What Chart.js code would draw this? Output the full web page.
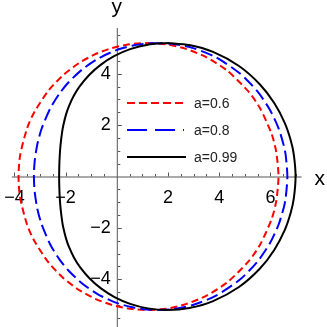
<!DOCTYPE html>
<html>
<head>
<meta charset="utf-8">
<script src="https://cdn.jsdelivr.net/npm/chart.js@4"></script>
<style>
  html, body { margin: 0; padding: 0; background: #fff; }
  #wrap { width: 327px; height: 327px; }
</style>
</head>
<body>
<div id="wrap"><canvas id="c"></canvas></div>
<script>
// closed curves (start at the top, go clockwise)
const x06 = [1.2, 1.934, 2.697, 3.489, 4.311, 5.163, 5.601, 6.046, 6.226, 6.317, 6.226, 6.046, 5.601, 5.163, 4.311, 3.489, 2.697, 1.934, 1.2, 0.494, -0.185, -0.838, -1.467, -2.072, -2.657, -3.224, -3.503, -3.778, -3.838, -3.778, -3.503, -3.224, -2.657, -2.072, -1.467, -0.838, -0.185, 0.494, 1.2];
const y06 = [5.196, 5.142, 4.967, 4.644, 4.121, 3.281, 2.645, 1.662, 0.965, 0, -0.965, -1.662, -2.645, -3.281, -4.121, -4.644, -4.967, -5.142, -5.196, -5.146, -4.999, -4.759, -4.419, -3.965, -3.359, -2.502, -1.879, -0.811, 0, 0.811, 1.879, 2.502, 3.359, 3.965, 4.419, 4.759, 4.999, 5.146, 5.196];

const x08 = [1.342, 2.134, 2.978, 3.875, 4.825, 5.488, 5.967, 6.316, 6.529, 6.6, 6.663, 6.6, 6.529, 6.316, 5.967, 5.488, 4.825, 3.875, 2.978, 2.134, 1.342, 0.6, -0.092, -0.738, -1.339, -1.9, -2.256, -2.6, -2.938, -3.106, -3.207, -3.238, -3.207, -3.106, -2.938, -2.6, -2.256, -1.9, -1.339, -0.738, -0.092, 0.6, 1.342];
const y08 = [5.189, 5.167, 4.997, 4.636, 3.997, 3.319, 2.62, 1.883, 1.183, 0.812, 0, -0.812, -1.183, -1.883, -2.62, -3.319, -3.997, -4.636, -4.997, -5.167, -5.189, -5.091, -4.886, -4.582, -4.176, -3.648, -3.205, -2.646, -1.858, -1.246, -0.601, 0, 0.601, 1.246, 1.858, 2.646, 3.205, 3.648, 4.176, 4.582, 4.886, 5.091, 5.189];

const x099 = [1.98, 2.83, 3.761, 4.773, 5.584, 6.15, 6.559, 6.796, 6.916, 6.983, 6.916, 6.796, 6.559, 6.15, 5.584, 4.773, 3.761, 2.83, 1.98, 1.21, 0.521, -0.089, -0.619, -1.07, -1.444, -1.675, -1.868, -1.979, -2.084, -2.138, -2.201, -2.231, -2.248, -2.252, -2.248, -2.231, -2.201, -2.138, -2.084, -1.979, -1.868, -1.675, -1.444, -1.07, -0.619, -0.089, 0.521, 1.21, 1.98];
const y099 = [5.196, 5.118, 4.848, 4.299, 3.59, 2.857, 2.084, 1.4, 0.843, 0, -0.843, -1.4, -2.084, -2.857, -3.59, -4.299, -4.848, -5.118, -5.196, -5.131, -4.955, -4.69, -4.354, -3.959, -3.514, -3.148, -2.741, -2.426, -2.017, -1.716, -1.195, -0.781, -0.353, 0, 0.353, 0.781, 1.195, 1.716, 2.017, 2.426, 2.741, 3.148, 3.514, 3.959, 4.354, 4.69, 4.955, 5.131, 5.196];

const seriesLabels = ["a=0.6", "a=0.8", "a=0.99"];
const xTickLabels = [-4, -2, 2, 4, 6];
const yTickLabels = [-4, -2, 2, 4];

const toPoints = (xs, ys) => xs.map((x, i) => ({ x: x, y: ys[i] }));
const fmt = (v) => (v < 0 ? "\u2212" + Math.abs(v) : String(v));

// axes through the origin, Mathematica style (ticks on the inner side)
const axesPlugin = {
    id: "originAxes",
    beforeDatasetsDraw(chart) {
        const { ctx, scales: { x, y } } = chart;
        const x0 = x.getPixelForValue(0);
        const y0 = y.getPixelForValue(0);
        ctx.save();
        ctx.strokeStyle = "#555";
        ctx.lineWidth = 1;
        ctx.beginPath();
        ctx.moveTo(x.getPixelForValue(-4.1), y0 + 0.5);
        ctx.lineTo(x.getPixelForValue(7.22), y0 + 0.5);
        ctx.moveTo(x0 + 0.5, y.getPixelForValue(5.78));
        ctx.lineTo(x0 + 0.5, y.getPixelForValue(-5.9));
        // x ticks
        for (let v = -4; v <= 7; v += 0.5) {
            if (v === 0) continue;
            const px = Math.round(x.getPixelForValue(v)) + 0.5;
            const len = v % 2 === 0 ? 4 : 2.5;
            ctx.moveTo(px, y0);
            ctx.lineTo(px, y0 - len);
        }
        // y ticks
        for (let v = -5.5; v <= 5.5; v += 0.5) {
            if (v === 0) continue;
            const py = Math.round(y.getPixelForValue(v)) + 0.5;
            const len = v % 2 === 0 ? 4 : 2.5;
            ctx.moveTo(x0 + 1, py);
            ctx.lineTo(x0 + 1 + len, py);
        }
        ctx.stroke();

        ctx.fillStyle = "#000";
        ctx.font = "18px 'Liberation Sans', Arial, sans-serif";
        ctx.textAlign = "center";
        ctx.textBaseline = "middle";
        xTickLabels.forEach((v) => {
            ctx.fillText(fmt(v), x.getPixelForValue(v), y0 + 22);
        });
        ctx.textAlign = "right";
        yTickLabels.forEach((v) => {
            ctx.fillText(fmt(v), x0 - 6, y.getPixelForValue(v));
        });

        ctx.font = "21px 'Liberation Sans', Arial, sans-serif";
        ctx.textAlign = "center";
        ctx.textBaseline = "alphabetic";
        ctx.fillText("x", x.getPixelForValue(7.22) + 18, y0 + 8);
        ctx.fillText("y", x0, y.getPixelForValue(5.78) - 15);
        ctx.restore();
    },
    afterDatasetsDraw(chart) {
        const { ctx } = chart;
        const rows = [103, 130, 157];
        ctx.save();
        chart.data.datasets.forEach((ds, i) => {
            const yy = rows[i];
            ctx.strokeStyle = ds.borderColor;
            ctx.lineWidth = ds.borderWidth;
            ctx.setLineDash(ds.legendDash);
            ctx.beginPath();
            ctx.moveTo(127, yy);
            ctx.lineTo(i === 2 ? 186 : 184, yy);
            ctx.stroke();
            ctx.setLineDash([]);
            ctx.fillStyle = "#222";
            ctx.font = "14px 'Liberation Sans', Arial, sans-serif";
            ctx.textAlign = "left";
            ctx.textBaseline = "middle";
            ctx.fillText(ds.label, 194, yy + 1);
        });
        ctx.restore();
    },
};

new Chart(document.getElementById("c"), {
    type: "scatter",
    data: {
        datasets: [
            {
                label: seriesLabels[0],
                data: toPoints(x06, y06),
                borderColor: "#ff0000",
                borderWidth: 2,
                borderDash: [7, 4],
                legendDash: [8, 4],
                order: 3,
            },
            {
                label: seriesLabels[1],
                data: toPoints(x08, y08),
                borderColor: "#0000ff",
                borderWidth: 2,
                borderDash: [12, 5],
                legendDash: [20, 8],
                order: 2,
            },
            {
                label: seriesLabels[2],
                data: toPoints(x099, y099),
                borderColor: "#000000",
                borderWidth: 2,
                borderDash: [],
                legendDash: [],
                order: 1,
            },
        ],
    },
    options: {
        responsive: true,
        maintainAspectRatio: false,
        animation: false,
        showLine: true,
        layout: { padding: 0 },
        elements: {
            point: { radius: 0, hoverRadius: 0 },
            line: { tension: 0.25, fill: false },
        },
        plugins: { legend: { display: false }, tooltip: { enabled: false } },
        scales: {
            x: { type: "linear", min: -4.5625, max: 8.211, display: false },
            y: { type: "linear", min: -5.856, max: 6.868, display: false },
        },
    },
    plugins: [axesPlugin],
});
</script>
</body>
</html>
